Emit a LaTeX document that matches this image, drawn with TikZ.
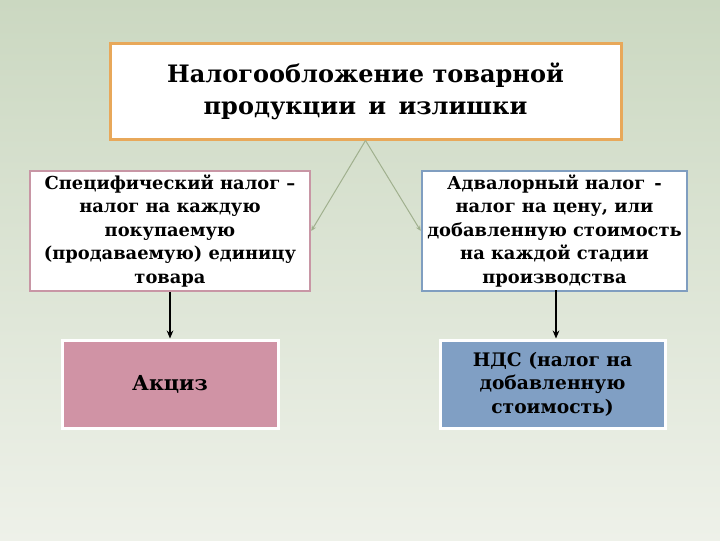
\documentclass[tikz,border=0pt]{standalone}
\usepackage{fontspec}
\setmainfont{DejaVu Serif}
\usetikzlibrary{arrows.meta,shadows}
\definecolor{bgtop}{RGB}{203,216,193}
\definecolor{bgbot}{RGB}{238,241,233}
\definecolor{orangeline}{RGB}{232,168,90}
\definecolor{pinkline}{RGB}{200,150,165}
\definecolor{blueline}{RGB}{128,158,192}
\definecolor{pinkfill}{RGB}{208,147,165}
\definecolor{bluefill}{RGB}{128,159,196}
\definecolor{greenline}{RGB}{160,176,142}
\tikzset{
  titlebox/.style={draw=orangeline,line width=2.25pt,fill=white,align=center,font=\bfseries\fontsize{18}{24}\selectfont},
  kindbox/.style={line width=1.9pt,fill=white,align=center,inner sep=0pt,font=\bfseries\fontsize{13.4}{17.6}\selectfont},
  taxbox/.style={draw=white,line width=2.25pt,align=center,inner sep=0pt,drop shadow={shadow xshift=1pt,shadow yshift=-1pt,opacity=0.25},font=\bfseries\fontsize{14}{17.6}\selectfont},
  link/.style={color=greenline,line width=0.75pt,-{Stealth[length=4pt,width=3.5pt]}},
  down/.style={line width=1.1pt,-{Stealth[length=6pt,width=5pt]}}
}

\begin{document}
\begin{tikzpicture}[x=0.75pt,y=0.75pt,yscale=-1,xscale=1]
%Background
\shade [top color=bgtop,bottom color=bgbot] (0,0) rectangle (720,540);
\useasboundingbox (0,0) rectangle (720,540);

% Title Node
\node [titlebox,minimum width=383.25pt,minimum height=72pt] (title) at (365.5,91) {Налогообложение товарной\\продукции\, и\, излишки};
% Text Node
\node [kindbox,draw=pinkline,minimum width=210pt,minimum height=90pt] (specific) at (170,231) {Специфический налог –\\налог на каждую\\покупаемую\\(продаваемую) единицу\\товара};
% Text Node
\node [kindbox,draw=blueline,minimum width=198.75pt,minimum height=90pt] (advalorem) at (554.5,231) {Адвалорный налог\, -\\налог на цену, или\\добавленную стоимость\\на каждой стадии\\производства};
% Text Node
\node [taxbox,fill=pinkfill,minimum width=162pt,minimum height=66pt,font=\bfseries\fontsize{15.5}{18}\selectfont] (excise) at (170,384) {Акциз};
% Text Node
\node [taxbox,fill=bluefill,minimum width=168.75pt,minimum height=66pt] (vat) at (552.5,384) {НДС (налог на\\добавленную\\стоимость)};
\coordinate (vatin) at (556,290);

%Straight Lines
\draw [link] (title.south) -- (specific.east);
\draw [link] (title.south) -- (advalorem.west);
%Straight Lines
\draw [down] (specific.south) -- (excise.north);
\draw [down] (vatin) -- (vatin |- vat.north);

\end{tikzpicture}
\end{document}
